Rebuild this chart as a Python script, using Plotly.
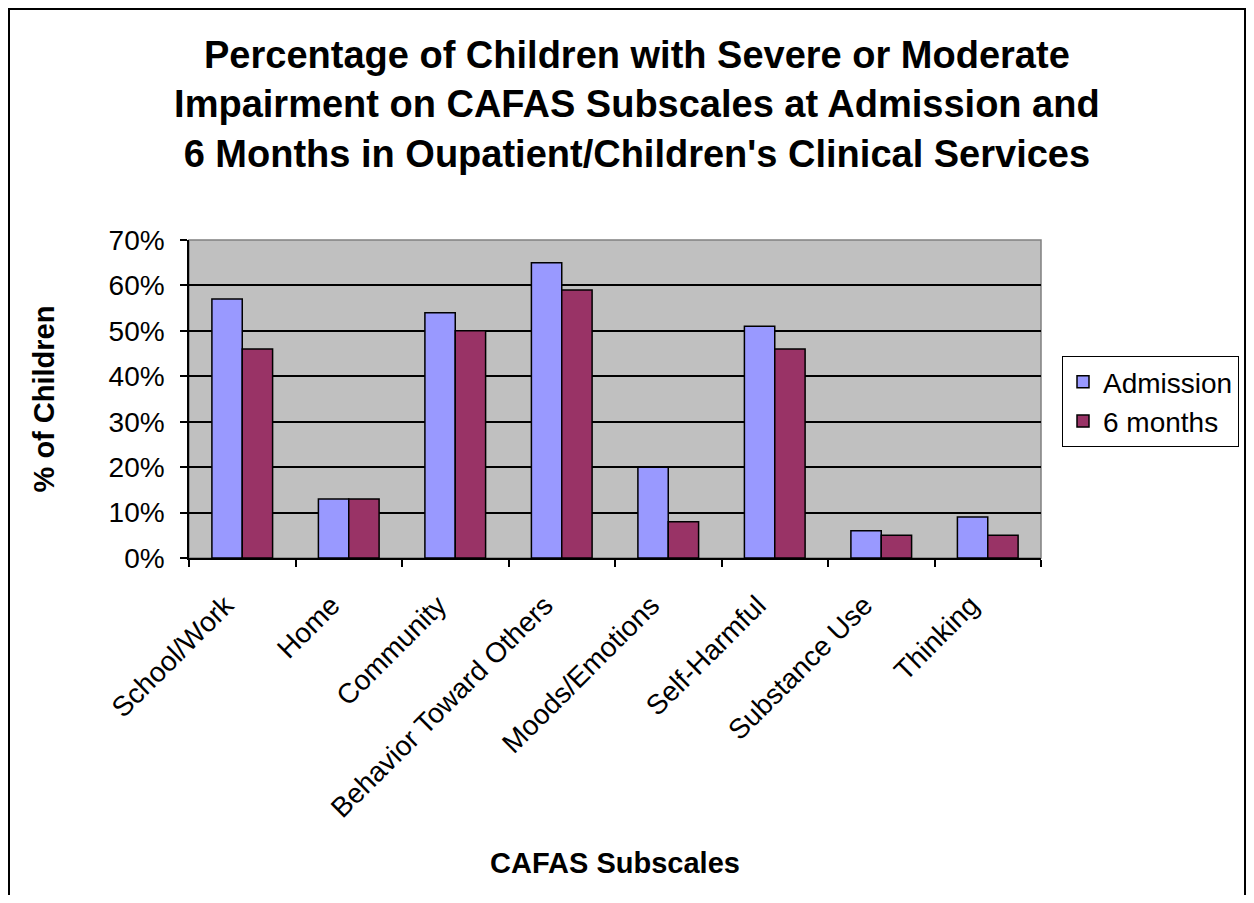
import plotly.graph_objects as go

categories = ["School/Work", "Home", "Community", "Behavior Toward Others",
              "Moods/Emotions", "Self-Harmful", "Substance Use", "Thinking"]
admission = [0.57, 0.13, 0.54, 0.65, 0.20, 0.51, 0.06, 0.09]
six_months = [0.46, 0.13, 0.50, 0.59, 0.08, 0.46, 0.05, 0.05]

FONT = "Arial, Liberation Sans, sans-serif"
# page has an 8px body margin, so the figure is sized to fit inside it
W, H = 1238, 887
L, R, T, B = 181, 1033, 232, 550

fig = go.Figure()
fig.add_trace(go.Bar(x=categories, y=admission, name="Admission",
                     marker=dict(color="#9999FF", line=dict(color="#000000", width=1.5))))
fig.add_trace(go.Bar(x=categories, y=six_months, name="6 months",
                     marker=dict(color="#993366", line=dict(color="#000000", width=1.5))))

pw, ph = R - L, B - T
def px(x):
    return (x - L) / pw
def py(y):
    return (B - y) / ph

fig.update_layout(
    width=W, height=H, autosize=False,
    margin=dict(l=L, r=W - R, t=T, b=H - B, autoexpand=False),
    paper_bgcolor="white", plot_bgcolor="#C0C0C0",
    font=dict(family=FONT, size=26, color="black"),
    barmode="group", bargap=0.43, bargroupgap=0,
    title=dict(
        text="Percentage of Children with Severe or Moderate<br>"
             "Impairment on CAFAS Subscales at Admission and<br>"
             "6 Months in Oupatient/Children's Clinical Services",
        font=dict(family=FONT, size=38, color="black", weight="bold"),
        x=0.508, xref="container", xanchor="center",
        y=1 - 60 / H, yref="container", yanchor="top",
    ),
    legend=dict(
        x=px(1054), y=py(348), xanchor="left", yanchor="top",
        bgcolor="white", bordercolor="black", borderwidth=1,
        font=dict(family=FONT, size=28), itemwidth=30,
        tracegroupgap=2,
    ),
    showlegend=True,
)
fig.update_xaxes(
    type="category", tickson="boundaries", ticks="outside", ticklen=7,
    tickcolor="black", tickwidth=1.5, tickangle=-45,
    ticklabelstandoff=18, ticklabelshift=-17, automargin=False,
    showline=True, linecolor="black", linewidth=1.5,
    tickfont=dict(family=FONT, size=28),
    title=dict(text="<b>CAFAS Subscales</b>", font=dict(family=FONT, size=29), standoff=30),
)
fig.update_yaxes(
    range=[0, 0.7], dtick=0.1, tickformat=".0%", automargin=False,
    ticks="outside", ticklen=7, tickcolor="black", tickwidth=1.5, ticklabelstandoff=10,
    showline=True, linecolor="black", linewidth=1.5,
    showgrid=True, gridcolor="black", gridwidth=1.5, zeroline=False,
    tickfont=dict(family=FONT, size=28),
    title=dict(text="<b>% of Children</b>", font=dict(family=FONT, size=29), standoff=45),
)
# plot area border (grey) and chart outer frame
fig.add_shape(type="rect", xref="paper", yref="paper", x0=0, x1=1, y0=0, y1=1,
              line=dict(color="#808080", width=1.5), layer="below")
fig.add_shape(type="rect", xref="paper", yref="paper",
              x0=px(1), x1=px(W - 1), y0=py(H + 20), y1=py(1),
              line=dict(color="black", width=2))
fig.write_html("out.html")
